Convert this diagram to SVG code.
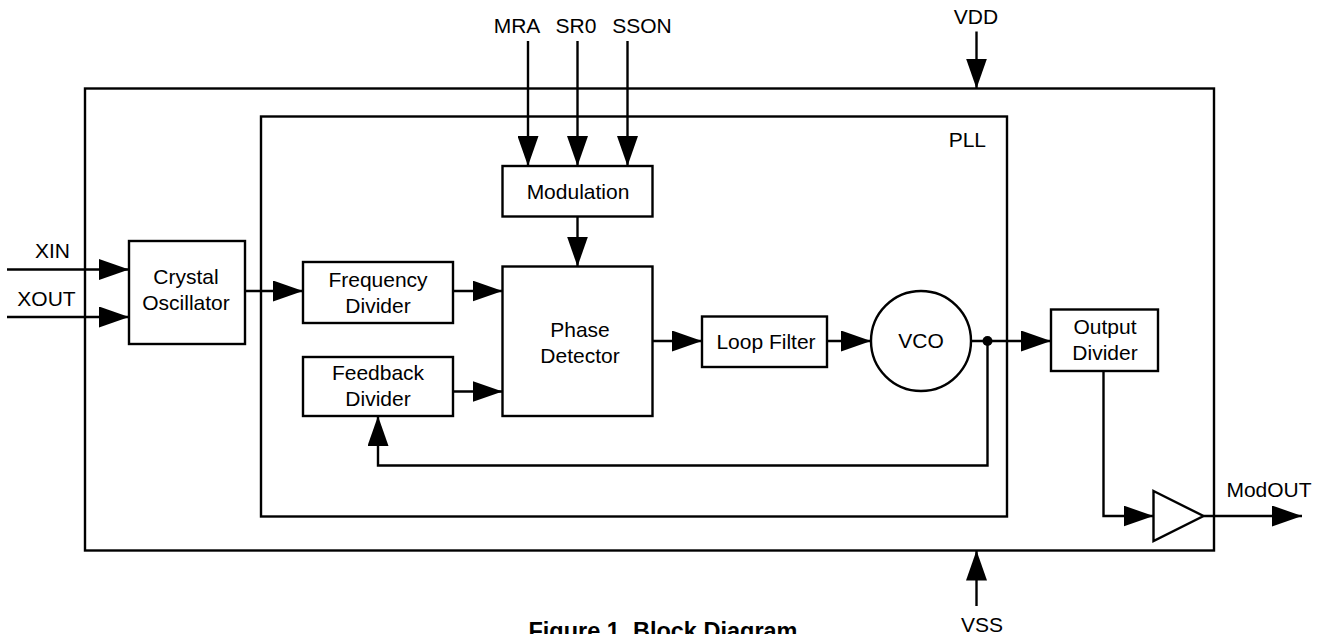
<svg xmlns="http://www.w3.org/2000/svg" width="1324" height="634" viewBox="0 0 1324 634">
<style>
.b{fill:#fff;stroke:#000;stroke-width:2.4}
.f{fill:none;stroke:#000;stroke-width:2.4}
.w{fill:none;stroke:#000;stroke-width:2.4}
text{font-family:"Liberation Sans",Arial,Helvetica,sans-serif;font-size:21px;fill:#000}
.c{text-anchor:middle}
.cap{font-weight:bold;font-size:23.5px}
</style>
<defs>
<marker id="a" markerUnits="userSpaceOnUse" markerWidth="31" markerHeight="21" refX="30" refY="10.5" orient="auto" viewBox="0 0 31 21">
<path d="M0,0 L30,10.5 L0,21 z" fill="#000"/>
</marker>
</defs>
<g id="outer"><rect class="f" x="85" y="88.5" width="1129" height="462"/></g>
<g id="pll"><rect class="f" x="261" y="116.5" width="746" height="400"/><text x="986" y="147" text-anchor="end">PLL</text></g>
<g id="crystal"><rect class="b" x="129" y="241" width="116" height="103"/><text class="c" x="186" y="284">Crystal</text><text class="c" x="186" y="310">Oscillator</text></g>
<g id="freqdiv"><rect class="b" x="303" y="262" width="150" height="61"/><text class="c" x="378" y="287">Frequency</text><text class="c" x="378" y="313">Divider</text></g>
<g id="fbdiv"><rect class="b" x="303" y="357" width="150" height="59"/><text class="c" x="378" y="380">Feedback</text><text class="c" x="378" y="406">Divider</text></g>
<g id="modulation"><rect class="b" x="502.5" y="166" width="150" height="50.5"/><text class="c" x="578" y="199">Modulation</text></g>
<g id="phase"><rect class="b" x="502.5" y="266.5" width="150" height="149.5"/><text class="c" x="580" y="337">Phase</text><text class="c" x="580" y="363">Detector</text></g>
<g id="loop"><rect class="b" x="702" y="316.5" width="125" height="50.5"/><text class="c" x="766" y="349">Loop Filter</text></g>
<g id="vco"><circle class="b" cx="921" cy="341" r="50"/><text class="c" x="921" y="348">VCO</text></g>
<g id="outdiv"><rect class="b" x="1051" y="309.5" width="107" height="61.5"/><text class="c" x="1105" y="334">Output</text><text class="c" x="1105" y="360">Divider</text></g>
<g id="buffer"><path class="b" d="M1153.5,491 L1203.5,516 L1153.5,541 z"/></g>
<g id="labels">
<text class="c" x="517" y="33">MRA</text>
<text class="c" x="576" y="33">SR0</text>
<text class="c" x="642" y="33">SSON</text>
<text class="c" x="976" y="24">VDD</text>
<text class="c" x="52.5" y="258">XIN</text>
<text class="c" x="46.5" y="306">XOUT</text>
<text class="c" x="1269" y="497">ModOUT</text>
<text class="c" x="982" y="632">VSS</text>
<text class="c cap" x="663" y="638.5">Figure 1. Block Diagram</text>
</g>
<g id="connectors">
<line class="w" x1="7" y1="269.5" x2="129" y2="269.5" marker-end="url(#a)"/>
<line class="w" x1="7" y1="317" x2="129" y2="317" marker-end="url(#a)"/>
<line class="w" x1="245" y1="291" x2="303" y2="291" marker-end="url(#a)"/>
<line class="w" x1="453" y1="291" x2="502.5" y2="291" marker-end="url(#a)"/>
<line class="w" x1="453" y1="391.5" x2="502.5" y2="391.5" marker-end="url(#a)"/>
<line class="w" x1="528" y1="41" x2="528" y2="166" marker-end="url(#a)"/>
<line class="w" x1="577.5" y1="41" x2="577.5" y2="166" marker-end="url(#a)"/>
<line class="w" x1="627.5" y1="41" x2="627.5" y2="166" marker-end="url(#a)"/>
<line class="w" x1="577.5" y1="216.5" x2="577.5" y2="266.5" marker-end="url(#a)"/>
<line class="w" x1="652.5" y1="341" x2="702" y2="341" marker-end="url(#a)"/>
<line class="w" x1="827" y1="341" x2="871" y2="341" marker-end="url(#a)"/>
<line class="w" x1="971" y1="341" x2="1051" y2="341" marker-end="url(#a)"/>
<circle cx="987.5" cy="341" r="5" fill="#000"/>
<polyline class="w" points="987.5,341 987.5,465.5 378,465.5 378,416" marker-end="url(#a)"/>
<polyline class="w" points="1103.5,371 1103.5,516 1153.5,516" marker-end="url(#a)"/>
<line class="w" x1="1203.5" y1="516" x2="1302" y2="516" marker-end="url(#a)"/>
<line class="w" x1="976.5" y1="31.5" x2="976.5" y2="88.5" marker-end="url(#a)"/>
<line class="w" x1="976.5" y1="606" x2="976.5" y2="550.5" marker-end="url(#a)"/>
</g>
</svg>
